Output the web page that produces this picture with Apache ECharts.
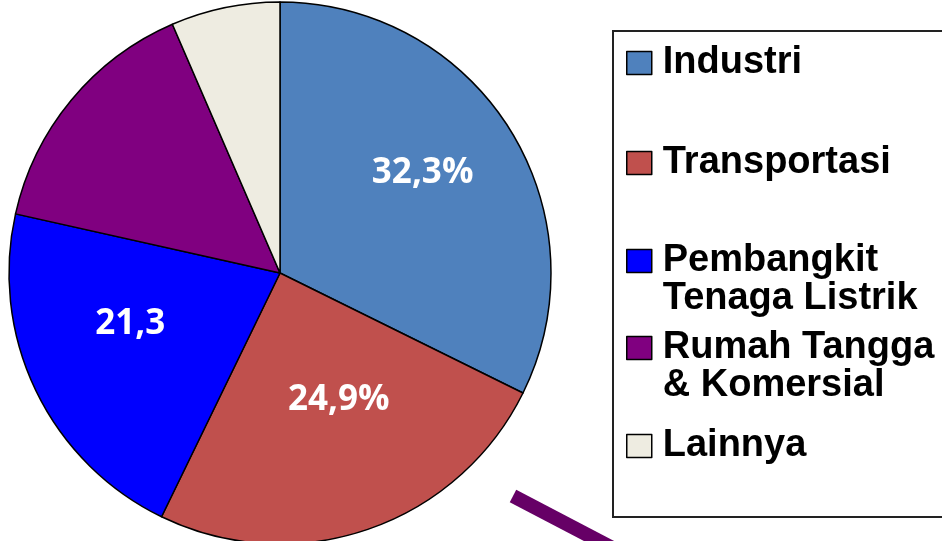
<!DOCTYPE html>
<html>
<head>
<meta charset="utf-8">
<script src="https://cdn.jsdelivr.net/npm/echarts@6/dist/echarts.min.js"></script>
<style>
  html, body { margin: 0; padding: 0; background: #fff; }
  #pie { width: 942px; height: 541px; }
</style>
</head>
<body>
<div id="pie"></div>
<script>
// data
var categories = ['Industri', 'Transportasi', 'Pembangkit Tenaga Listrik', 'Rumah Tangga & Komersial', 'Lainnya'];
var values = [32.3, 24.9, 21.3, 15.0, 6.5];
var sliceLabels = ['32,3%', '24,9%', '21,3', '', ''];
var legendLines = [['Industri'], ['Transportasi'], ['Pembangkit', 'Tenaga Listrik'], ['Rumah Tangga', '& Komersial'], ['Lainnya']];
var colors = ['#4F81BD', '#C0504D', '#0000FF', '#800080', '#EEECE1'];

// manual nudges of the labels, like in the original slide
var labelShift = [[25, -27], [14, -4], [-25, -9], [0, 0], [0, 0]];
var legendTop = [44, 144, 204, 291, 427];

var dom = document.getElementById('pie');
var myChart = echarts.init(dom, null, { renderer: 'canvas' });

var LINE_H = 38;
var legends = categories.map(function (name, i) {
    var lines = legendLines[i];
    // an empty first line keeps the marker beside the first text line
    var text = lines.length > 1 ? '\n' + lines.join('\n') : lines[0];
    return {
        orient: 'vertical',
        left: 626,
        top: legendTop[i],
        padding: 0,
        itemWidth: 25,
        itemHeight: 23,
        selectedMode: false,
        data: [name],
        icon: 'rect',
        itemStyle: { borderColor: '#000', borderWidth: 1.5 },
        formatter: function () { return text; },
        textStyle: {
            fontFamily: '"Liberation Sans", Arial, sans-serif',
            fontWeight: 'bold',
            fontSize: 38,
            lineHeight: LINE_H,
            color: '#000',
            padding: [0, 0, 0, 6]
        }
    };
});

var option = {
    animation: false,
    backgroundColor: '#ffffff',
    legend: legends,
    graphic: [
        {
            type: 'rect',
            z: 0,
            shape: { x: 613, y: 31, width: 340, height: 486 },
            style: { fill: 'none', stroke: '#222', lineWidth: 2 }
        },
        {
            type: 'line',
            z: 0,
            shape: { x1: 513, y1: 496, x2: 622, y2: 553 },
            style: { stroke: '#660066', lineWidth: 14 }
        }
    ],
    series: [
        {
            type: 'pie',
            center: [280, 273],
            radius: 271,
            startAngle: 90,
            clockwise: true,
            avoidLabelOverlap: false,
            emphasis: { disabled: true },
            itemStyle: { borderColor: '#000', borderWidth: 1.5 },
            label: {
                show: true,
                position: 'inside',
                color: '#fff',
                fontFamily: '"Open Sans", sans-serif',
                fontWeight: 'bold',
                fontSize: 35,
                formatter: function (p) { return sliceLabels[p.dataIndex]; }
            },
            labelLine: { show: false },
            labelLayout: function (p) {
                var s = labelShift[p.dataIndex];
                return { dx: s[0], dy: s[1] };
            },
            data: categories.map(function (name, i) {
                return { name: name, value: values[i], itemStyle: { color: colors[i] } };
            })
        }
    ]
};

if (option && typeof option === 'object') {
    myChart.setOption(option, true);
}
</script>
</body>
</html>
